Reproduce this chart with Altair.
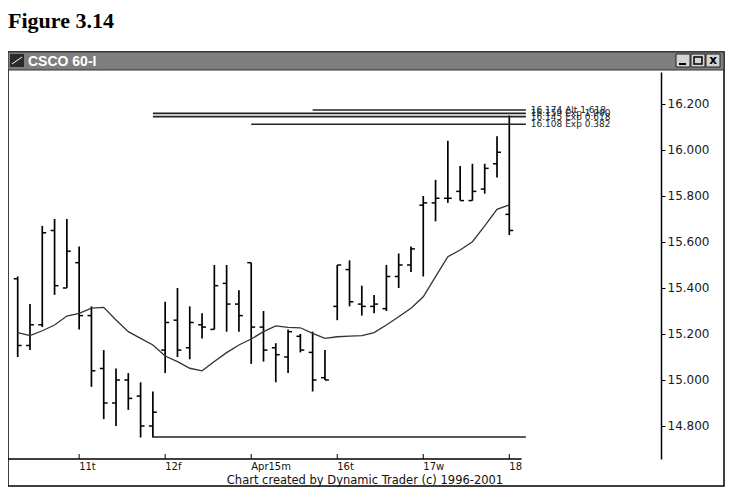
import altair as alt
import pandas as pd

# ---------------- data ----------------
bar_index = list(range(1, 42))
opens = [15.44, 15.15, 15.24, 15.65, 15.40, 15.51, 15.28, 15.05, 14.90, 15.00,
         14.93, 14.80, 15.13, 15.26, 15.14, 15.24, 15.22, 15.42, 15.33, 15.51,
         15.23, 15.14, 15.10, 15.19, 15.12, 15.01, 15.32, 15.48, 15.33, 15.32,
         15.31, 15.45, 15.50, 15.76, 15.77, 15.79, 15.82, 15.78, 15.83, 15.94,
         15.72]
highs = [15.45, 15.33, 15.67, 15.70, 15.70, 15.58, 15.32, 15.13, 15.05, 15.03,
         14.99, 14.95, 15.34, 15.40, 15.32, 15.29, 15.50, 15.50, 15.39, 15.51,
         15.30, 15.16, 15.22, 15.20, 15.21, 15.13, 15.50, 15.52, 15.41, 15.37,
         15.50, 15.55, 15.58, 15.80, 15.87, 16.04, 15.93, 15.94, 15.94, 16.06,
         16.15]
lows = [15.10, 15.13, 15.23, 15.37, 15.40, 15.22, 14.97, 14.83, 14.80, 14.87,
        14.75, 14.75, 15.03, 15.10, 15.09, 15.18, 15.22, 15.21, 15.21, 15.07,
        15.08, 14.99, 15.03, 15.12, 14.95, 15.00, 15.26, 15.32, 15.28, 15.29,
        15.30, 15.40, 15.47, 15.45, 15.69, 15.77, 15.78, 15.78, 15.81, 15.88,
        15.63]
closes = [15.15, 15.24, 15.64, 15.41, 15.56, 15.28, 15.04, 14.90, 15.00, 14.92,
          14.80, 14.86, 15.25, 15.13, 15.25, 15.23, 15.41, 15.33, 15.28, 15.23,
          15.13, 15.11, 15.21, 15.13, 15.00, 15.00, 15.50, 15.34, 15.32, 15.33,
          15.45, 15.50, 15.57, 15.77, 15.79, 15.79, 15.78, 15.82, 15.92, 15.99,
          15.65]
moving_avg = [15.206, 15.193, 15.214, 15.239, 15.278, 15.290, 15.312, 15.316, 15.261, 15.210,
              15.181, 15.152, 15.104, 15.080, 15.051, 15.040, 15.080, 15.119, 15.152, 15.178,
              15.210, 15.235, 15.229, 15.227, 15.203, 15.181, 15.188, 15.191, 15.193, 15.206,
              15.239, 15.275, 15.312, 15.362, 15.449, 15.536, 15.565, 15.601, 15.670, 15.742,
              15.761]

day_ticks = [6, 13, 20, 27, 34, 41]
day_labels = ["11t", "12f", "Apr15m", "16t", "17w", "18"]

proj_levels = [16.174, 16.159, 16.145, 16.112]
proj_start = [25, 12, 12, 20]
proj_labels = ["16.174 Alt 1.618", "16.159 Exp 1.000", "16.145 Exp 0.618", "16.108 Exp 0.382"]
proj_end = 42.35
support_level = [14.752]
support_start = [12]

y_ticks = [14.8, 15.0, 15.2, 15.4, 15.6, 15.8, 16.0, 16.2]

# ---------------- layout ----------------
W, H = 653, 387
xs = alt.Scale(domain=[0.2107, 53.344], nice=False, zero=False)
ys = alt.Scale(domain=[14.6565, 16.339], nice=False, zero=False)
y_axis = alt.Axis(orient="right", values=y_ticks, format=".3f", grid=False, title=None,
                  domainColor="black", domainWidth=1.5, tickColor="black",
                  tickSize=4, tickWidth=1, labelFont="DejaVu Sans",
                  labelFontSize=12, labelColor="#1a1a1a", labelPadding=2)

df = pd.DataFrame({"i": bar_index, "open": opens, "high": highs, "low": lows,
                   "close": closes, "ma": moving_avg})
df["o_left"] = df["i"] - 0.32
df["c_right"] = df["i"] + 0.32

proj_df = pd.DataFrame({"level": proj_levels, "start": proj_start,
                        "end": [proj_end] * 4, "label": proj_labels,
                        "lx": [42.75] * 4})
support_df = pd.DataFrame({"level": support_level, "start": support_start, "end": [proj_end]})
days_df = pd.DataFrame({"i": day_ticks, "label": day_labels})
baseline_df = pd.DataFrame({"start": [0.2107], "end": [42.0]})
dummy = pd.DataFrame({"d": [0]})

# ---------------- price chart ----------------
base = alt.Chart(df)
bars = base.mark_rule(color="black", strokeWidth=1.7).encode(
    x=alt.X("i:Q", scale=xs, axis=None),
    y=alt.Y("low:Q", scale=ys, title=None, axis=y_axis),
    y2="high:Q")
open_ticks = base.mark_rule(color="black", strokeWidth=1.5).encode(
    x=alt.X("o_left:Q", scale=xs, axis=None), x2="i:Q",
    y=alt.Y("open:Q", scale=ys, title=None, axis=y_axis))
close_ticks = base.mark_rule(color="black", strokeWidth=1.5).encode(
    x=alt.X("i:Q", scale=xs, axis=None), x2="c_right:Q",
    y=alt.Y("close:Q", scale=ys, title=None, axis=y_axis))
ma_line = base.mark_line(color="#333", strokeWidth=1.3).encode(
    x=alt.X("i:Q", scale=xs, axis=None),
    y=alt.Y("ma:Q", scale=ys, title=None, axis=y_axis))

proj_rules = alt.Chart(proj_df).mark_rule(color="#222", strokeWidth=1.6).encode(
    x=alt.X("start:Q", scale=xs, axis=None), x2="end:Q",
    y=alt.Y("level:Q", scale=ys, title=None, axis=y_axis))
proj_text = alt.Chart(proj_df).mark_text(font="DejaVu Sans", fontSize=9, color="#222",
                                         align="left", baseline="middle").encode(
    x=alt.X("lx:Q", scale=xs, axis=None),
    y=alt.Y("level:Q", scale=ys, title=None, axis=y_axis),
    text="label:N")
support = alt.Chart(support_df).mark_rule(color="#222", strokeWidth=1.5).encode(
    x=alt.X("start:Q", scale=xs, axis=None), x2="end:Q",
    y=alt.Y("level:Q", scale=ys, title=None, axis=y_axis))

x_base = alt.Chart(baseline_df).mark_rule(color="black", strokeWidth=1.5).encode(
    x=alt.X("start:Q", scale=xs, axis=None), x2="end:Q", y=alt.value(H))
day_tick_marks = alt.Chart(days_df).mark_rule(color="black", strokeWidth=1).encode(
    x=alt.X("i:Q", scale=xs, axis=None), y=alt.value(H - 5), y2=alt.value(H))
day_text = alt.Chart(days_df).mark_text(font="DejaVu Sans", fontSize=10, color="#111",
                                        align="left", baseline="alphabetic").encode(
    x=alt.X("i:Q", scale=xs, axis=None), y=alt.value(H + 11), text="label:N")

# ---------------- window decoration ----------------
frame = alt.Chart(dummy).mark_rect(fillOpacity=0, stroke="black", strokeWidth=1.5).encode(
    x=alt.value(0), x2=alt.value(716), y=alt.value(-20), y2=alt.value(414))
titlebar = alt.Chart(dummy).mark_rect(color="#7e7e7e", stroke="#333", strokeWidth=1).encode(
    x=alt.value(0), x2=alt.value(716), y=alt.value(-20), y2=alt.value(-2))
icon = alt.Chart(dummy).mark_rect(color="#2b2b2b").encode(
    x=alt.value(2), x2=alt.value(16), y=alt.value(-18), y2=alt.value(-5))
icon_line = alt.Chart(dummy).mark_rule(color="white", strokeWidth=1).encode(
    x=alt.value(4), x2=alt.value(14), y=alt.value(-8), y2=alt.value(-15))
win_title = alt.Chart(dummy).mark_text(text="CSCO 60-I", color="white", font="Liberation Sans",
                                      fontSize=14, fontWeight="bold", align="left",
                                      baseline="alphabetic").encode(
    x=alt.value(20), y=alt.value(-6))

btn_layers = []
for bx in [668, 683, 698]:
    btn_layers.append(alt.Chart(dummy).mark_rect(color="#d4d4d4", stroke="#222", strokeWidth=1).encode(
        x=alt.value(bx), x2=alt.value(bx + 14), y=alt.value(-18), y2=alt.value(-5)))
btn_min = alt.Chart(dummy).mark_rule(color="black", strokeWidth=2).encode(
    x=alt.value(671), x2=alt.value(678), y=alt.value(-8))
btn_max = alt.Chart(dummy).mark_rect(fillOpacity=0, stroke="black", strokeWidth=1.5).encode(
    x=alt.value(686), x2=alt.value(694), y=alt.value(-15), y2=alt.value(-8))
btn_close = alt.Chart(dummy).mark_text(text="x", fontSize=12, fontWeight="bold", color="black",
                                       font="DejaVu Sans", baseline="middle").encode(
    x=alt.value(705), y=alt.value(-12))

fig_title = alt.Chart(dummy).mark_text(text="Figure 3.14", font="Liberation Serif", fontSize=22,
                                       fontWeight="bold", align="left", baseline="alphabetic",
                                       color="black").encode(
    x=alt.value(0), y=alt.value(-44))

credit = alt.Chart(dummy).mark_text(text="Chart created by Dynamic Trader (c) 1996-2001",
                                    font="DejaVu Sans", fontSize=11.5, color="#111",
                                    align="center", baseline="alphabetic").encode(
    x=alt.value(357), y=alt.value(412))

chart = alt.layer(
    bars, open_ticks, close_ticks, ma_line, support, proj_rules, proj_text,
    x_base, day_tick_marks, day_text,
    frame, titlebar, icon, icon_line, win_title, *btn_layers, btn_min, btn_max, btn_close,
    fig_title, credit,
).properties(
    width=W, height=H,
    background="white",
    autosize=alt.AutoSizeParams(type="none"),
    padding={"left": 0, "top": 64, "right": 65, "bottom": 29},
).configure_view(stroke=None)

chart.save("out.html", embed_options={"renderer": "svg", "actions": False})
